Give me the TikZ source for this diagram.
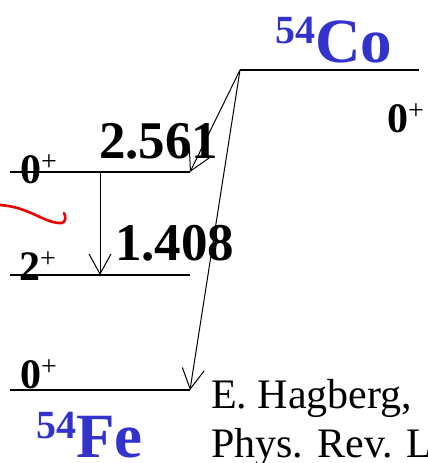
\documentclass[tikz,border=0pt]{standalone}
\usepackage{fontspec}
\setmainfont{Liberation Serif}
\usetikzlibrary{arrows.meta, positioning}
\definecolor{nucblue}{RGB}{51, 51, 204}
\definecolor{markred}{RGB}{235, 0, 0}
\tikzset{
  level/.style={line width=1.6pt, color=black},
  trans/.style={-{Straight Barb[length=20pt, width=22pt, line width=1pt]}, line width=1pt},
  spin/.style={font=\fontsize{42}{42}\selectfont\bfseries, inner sep=0pt, anchor=base west},
  energy/.style={font=\fontsize{53}{53}\selectfont\bfseries, inner sep=0pt, anchor=base west},
  nucl/.style={font=\fontsize{63}{63}\selectfont\bfseries, text=nucblue, inner sep=0pt, anchor=base west},
  refline/.style={font=\fontsize{42}{42}\selectfont, inner sep=0pt, anchor=base west},
}
\newcommand{\spinplus}{\raisebox{13pt}{\fontsize{28}{28}\mdseries\selectfont +}}
\newcommand{\massno}[1]{\raisebox{19pt}{\fontsize{40}{40}\selectfont #1}}

\begin{document}
\begin{tikzpicture}[x=1pt, y=-1pt]
  \clip (0,0) rectangle (428,463);

  % levels
  \coordinate (coL) at (240,70);  \coordinate (coR) at (419,70);
  \coordinate (exL) at (10,172);  \coordinate (exR) at (190,172);
  \coordinate (twL) at (10,275);  \coordinate (twR) at (190,275);
  \coordinate (gsL) at (10,390);  \coordinate (gsR) at (190,390);
  \coordinate (exM) at (100,172); \coordinate (twM) at (100,275);
  \draw[level] (coL) -- (coR);
  \draw[level] (exL) -- (exR);
  \draw[level] (twL) -- (twR);
  \draw[level] (gsL) -- (gsR);

  % transitions
  \draw[trans] (coL) -- (exR);
  \draw[trans] (coL) -- (gsR);
  \draw[trans] (exM) -- (twM);

  % spins and energies
  \node[spin] (coSpin) at (387,132) {0\spinplus};
  \node[spin] (exSpin) at (20,183) {0\spinplus};
  \node[spin] (twSpin) at (19,280) {2\spinplus};
  \node[spin] (gsSpin) at (20,388) {0\spinplus};
  \node[energy] (eEx) at (99,158) {2.561};
  \node[energy] (eTw) at (115,260) {1.408};

  % nuclei
  \node[nucl] (co) at (275,62) {\massno{54}Co};
  \node[nucl] (fe) at (36,457) {\massno{54}Fe};

  % reference
  \node[refline] (ref1) at (211,408) {E. Hagberg,};
  \node[refline] (ref2) at (211,457) {Phys. Rev. L};

  % red mark
  \draw[markred, line width=2.6pt, line cap=round]
    (0,205) .. controls (30,207) and (45,224) .. (62,223)
            .. controls (66,222) and (66,216) .. (64,213);
\end{tikzpicture}
\end{document}
